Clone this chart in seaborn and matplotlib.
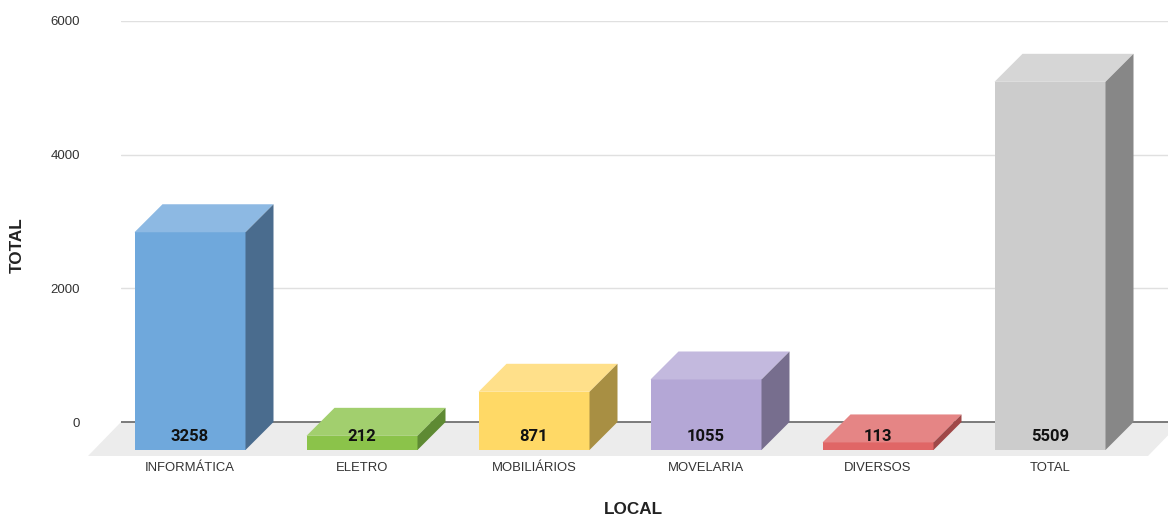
import matplotlib
matplotlib.use('Agg')
import matplotlib.pyplot as plt
from matplotlib.patches import Polygon
import seaborn as sns

# data
locais = ['INFORMÁTICA', 'ELETRO', 'MOBILIÁRIOS', 'MOVELARIA', 'DIVERSOS', 'TOTAL']
totais = [3258, 212, 871, 1055, 113, 5509]
y_ticks = [0, 2000, 4000, 6000]

# colours: front / top / side of each box
cor_frente = ['#6fa8dc', '#8bc34a', '#ffd966', '#b4a7d6', '#e06666', '#cccccc']
cor_topo   = ['#8db9e3', '#a2cf6e', '#ffe08a', '#c3b9de', '#e58585', '#d6d6d6']
cor_lado   = ['#4a6c8e', '#5e8a33', '#a88f43', '#776e8e', '#a04848', '#878787']

sns.set_theme(style='white')
plt.rcParams['font.family'] = ['Liberation Sans', 'DejaVu Sans']

W, H = 1168, 518
fig = plt.figure(figsize=(W/100, H/100), dpi=100)
ax = fig.add_axes([121/W, 62/H, 1047/W, 435/H])

sns.barplot(x=locais, y=totais, hue=locais, palette=cor_frente, legend=False,
            width=111/172, saturation=1, ax=ax, zorder=3)

## axis scale (pixels per data unit)
px_x = 172.0
x0 = -(218 - 121) / px_x
y_lo = -508.7
ax.set_xlim(x0, x0 + 1047/px_x)
ax.set_ylim(y_lo, 6000)
px_y = 435 / (6000 - y_lo)

dep = 28                      # depth of the boxes in px
dx, dy = dep/px_x, dep/px_y

## floor
fx, fy = 33/px_x, 34/px_y
xr = x0 + 1060/px_x
ax.add_patch(Polygon([(x0, 0), (xr, 0), (xr - fx, -fy), (x0 - fx, -fy)],
                     closed=True, color='#ececec', lw=0, zorder=0.8, clip_on=False))

ax.set_yticks(y_ticks)
ax.grid(axis='y', color='#e0e0e0', lw=1)
ax.grid(axis='x', visible=False)
ax.set_axisbelow(True)
ax.axhline(0, color='#666666', lw=1.2, zorder=1.5)

## turn each bar into a box
centros = []
for i, p in enumerate(ax.patches[:len(totais)]):
  x, w, h = p.get_x(), p.get_width(), p.get_height()
  p.set_x(x - dx)
  p.set_y(-dy)
  p.set_linewidth(0)
  topo = [(x - dx, h - dy), (x - dx + w, h - dy), (x + w, h), (x, h)]
  lado = [(x - dx + w, -dy), (x + w, 0), (x + w, h), (x - dx + w, h - dy)]
  ax.add_patch(Polygon(topo, closed=True, color=cor_topo[i], lw=0, zorder=3))
  ax.add_patch(Polygon(lado, closed=True, color=cor_lado[i], lw=0, zorder=3))
  cx = x - dx + w/2
  centros.append(cx)
  ax.text(cx, -dy + 14/px_y, str(totais[i]), ha='center', va='center',
          fontsize=12, fontweight='bold', color='#111111',
          family=['Roboto', 'DejaVu Sans'], zorder=5)

ax.set_xticks(centros, locais)
ax.tick_params(axis='x', length=0, pad=4.5, labelsize=9.4, labelcolor='#333333')
ax.tick_params(axis='y', length=0, pad=29.5, labelsize=9.5, labelcolor='#333333')
ax.set_xlabel('')
ax.set_ylabel('')
sns.despine(ax=ax, left=True, bottom=True)

fig.text(633/W, 1 - 509/H, 'LOCAL', ha='center', va='center',
         fontsize=12.3, fontweight='bold', color='#222222')
fig.text(17/W, 1 - 245/H, 'TOTAL', ha='center', va='center', rotation=90,
         fontsize=12.3, fontweight='bold', color='#222222')

fig.savefig('out.png', dpi=100)
